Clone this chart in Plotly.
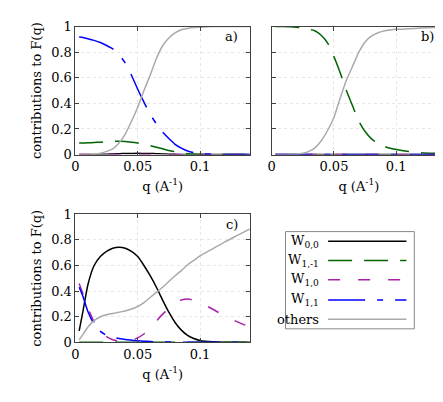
import plotly.graph_objects as go

# q grid (A^-1)
q = [0.003, 0.006, 0.01, 0.015, 0.02, 0.025, 0.03, 0.035, 0.04, 0.045, 0.05,
     0.055, 0.06, 0.065, 0.07, 0.075, 0.08, 0.085, 0.09, 0.095, 0.1,
     0.11, 0.12, 0.13, 0.14]

# panel a)
a_w00 = [0, 0, 0, 0.001, 0.002, 0.003, 0.005, 0.007, 0.008, 0.009, 0.01,
         0.009, 0.008, 0.007, 0.005, 0.003, 0.002, 0.001, 0.001, 0, 0,
         0, 0, 0, 0]
a_w1m1 = [0.09, 0.091, 0.092, 0.094, 0.097, 0.1, 0.103, 0.105, 0.103, 0.097, 0.09,
          0.082, 0.07, 0.057, 0.045, 0.032, 0.022, 0.013, 0.007, 0.004, 0.002,
          0, 0, 0, 0]
a_w10 = [0] * 25
a_w11 = [0.918, 0.914, 0.905, 0.892, 0.875, 0.852, 0.825, 0.78, 0.715, 0.62, 0.51,
         0.41, 0.315, 0.24, 0.175, 0.125, 0.08, 0.05, 0.028, 0.015, 0.007,
         0.002, 0, 0, 0]
a_oth = [0, 0, 0, 0.003, 0.01, 0.025, 0.045, 0.09, 0.16, 0.26, 0.37,
         0.5, 0.62, 0.75, 0.85, 0.91, 0.95, 0.975, 0.985, 0.992, 0.995,
         1, 1, 1, 1]

# panel b)
b_w00 = [0] * 25
b_w1m1 = [1.0, 1.0, 1.0, 0.998, 0.995, 0.99, 0.98, 0.965, 0.93, 0.87, 0.765,
          0.64, 0.5, 0.38, 0.26, 0.18, 0.125, 0.088, 0.066, 0.05, 0.04,
          0.024, 0.015, 0.01, 0.007]
b_w10 = [0] * 25
b_w11 = [0] * 25
b_oth = [0, 0, 0, 0, 0.003, 0.01, 0.025, 0.055, 0.11, 0.19, 0.29,
         0.44, 0.58, 0.69, 0.8, 0.88, 0.925, 0.95, 0.965, 0.973, 0.978,
         0.983, 0.988, 0.992, 0.995]

# panel c)
c_w00 = [0.09, 0.24, 0.45, 0.6, 0.67, 0.71, 0.735, 0.742, 0.735, 0.71, 0.67,
         0.6, 0.52, 0.43, 0.33, 0.235, 0.155, 0.095, 0.055, 0.03, 0.015,
         0.004, 0.001, 0, 0]
c_w1m1 = [0] * 25
c_w10 = [0.46, 0.38, 0.27, 0.16, 0.09, 0.045, 0.02, 0.01, 0.008, 0.015, 0.035,
         0.065, 0.105, 0.165, 0.22, 0.265, 0.305, 0.33, 0.338, 0.33, 0.31,
         0.26, 0.205, 0.16, 0.12]
c_w11 = [0.43, 0.36, 0.24, 0.14, 0.085, 0.055, 0.04, 0.03, 0.022, 0.017, 0.013,
         0.009, 0.006, 0.004, 0.003, 0.002, 0.001, 0, 0, 0, 0,
         0, 0, 0, 0]
c_oth = [0.02, 0.06, 0.12, 0.17, 0.2, 0.215, 0.225, 0.235, 0.245, 0.26, 0.28,
         0.31, 0.35, 0.39, 0.43, 0.475, 0.52, 0.56, 0.605, 0.64, 0.675,
         0.73, 0.785, 0.835, 0.885]

names = ["W<sub>0,0</sub>", "W<sub>1,-1</sub>", "W<sub>1,0</sub>", "W<sub>1,1</sub>", "others"]
colors = ["#000000", "#006400", "#aa22aa", "#0000ff", "#aaaaaa"]
dashes = ["solid", "24px,12px", "12px,18px", "37px,12px,6px,12px", "solid"]

panels = [
    ("x", "y", [a_w00, a_w1m1, a_w10, a_w11, a_oth], "a)"),
    ("x2", "y2", [b_w00, b_w1m1, b_w10, b_w11, b_oth], "b)"),
    ("x3", "y3", [c_w00, c_w1m1, c_w10, c_w11, c_oth], "c)"),
]

W, H = 443, 402
font = dict(family="DejaVu Serif", size=13, color="#000000")

fig = go.Figure()
for xa, ya, series, lab in panels:
    for name, ys, col, dash in zip(names, series, colors, dashes):
        fig.add_trace(go.Scatter(x=q, y=ys, mode="lines", name=name, xaxis=xa, yaxis=ya,
                                 line=dict(color=col, width=1.5, dash=dash, shape="spline", smoothing=0.6),
                                 showlegend=False))
    fig.add_annotation(text=lab, xref=xa + " domain", yref=ya + " domain", x=0.945, y=0.92,
                       xanchor="right", yanchor="middle", showarrow=False, font=font)


def px_x(p):
    return p / W


def px_y(p):
    return 1 - p / H


axis_common = dict(range=[0, 0.14], tickvals=[0, 0.05, 0.1], ticktext=["0", "0.05", "0.1"],
                   ticks="inside", ticklen=4, tickcolor="#404040", mirror="ticks",
                   showline=True, linecolor="#404040", linewidth=1,
                   showgrid=True, gridcolor="#e6e6e6", griddash="dot", zeroline=False,
                   tickfont=font, title=dict(text="q (A<sup>-1</sup>)", font=font, standoff=8))
yaxis_common = dict(range=[0, 1], tickvals=[0, 0.2, 0.4, 0.6, 0.8, 1],
                    ticktext=["0", "0.2", "0.4", "0.6", "0.8", "1"],
                    ticks="inside", ticklen=4, tickcolor="#404040", mirror="ticks",
                    showline=True, linecolor="#404040", linewidth=1,
                    showgrid=True, gridcolor="#e6e6e6", griddash="dot", zeroline=False,
                    tickfont=font)

top = [px_y(145), px_y(12)]
bot = [px_y(340), px_y(207)]
left = [px_x(64), px_x(240)]
right = [px_x(262), px_x(438)]

fig.update_layout(
    width=W, height=H, margin=dict(l=0, r=0, t=0, b=0),
    plot_bgcolor="white", paper_bgcolor="white", font=font,
    xaxis=dict(axis_common, domain=left, anchor="y"),
    yaxis=dict(yaxis_common, domain=top, anchor="x",
               title=dict(text="contributions to F(q)", font=font, standoff=6)),
    xaxis2=dict(axis_common, domain=right, anchor="y2"),
    yaxis2=dict(yaxis_common, domain=top, anchor="x2", showticklabels=False),
    xaxis3=dict(axis_common, domain=left, anchor="y3"),
    yaxis3=dict(yaxis_common, domain=bot, anchor="x3",
                title=dict(text="contributions to F(q)", font=font, standoff=6)),
)

# legend box, labels right-aligned with line samples on the right
fig.add_shape(type="rect", xref="paper", yref="paper",
              x0=px_x(276), x1=px_x(406), y0=px_y(326), y1=px_y(225),
              line=dict(color="#888888", width=1), fillcolor="white")
rows = [235, 255, 275, 296, 316]
for name, col, dash, ry in zip(names, colors, dashes, rows):
    fig.add_annotation(text=name, xref="paper", yref="paper", x=px_x(312), y=px_y(ry),
                       xanchor="right", yanchor="middle", showarrow=False, font=font)
    fig.add_shape(type="line", xref="paper", yref="paper",
                  x0=px_x(319), x1=px_x(398), y0=px_y(ry), y1=px_y(ry),
                  line=dict(color=col, width=1.5, dash=dash))

fig.write_html("out.html")
